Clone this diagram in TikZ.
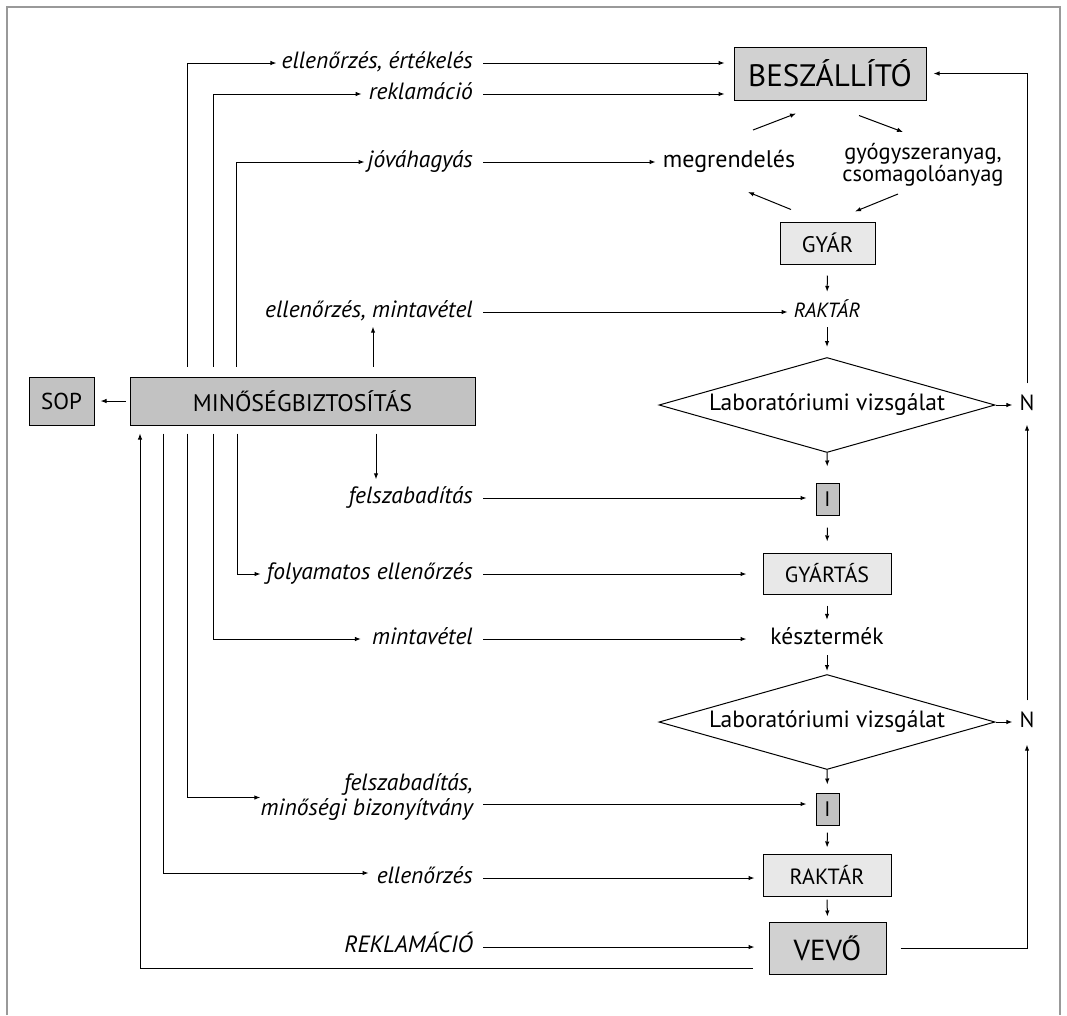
\documentclass[tikz,border=0pt]{standalone}
\usepackage{fontspec}
\setmainfont{PT Sans}
\usetikzlibrary{arrows.meta,shapes.geometric,calc}
\begin{document}
\begin{tikzpicture}[x=1pt,y=-1pt,
  arr/.style={-{Latex[length=6pt,width=4.5pt]}, line width=1pt},
  lbl/.style={font=\fontsize{23.5}{25}\selectfont\itshape, inner sep=0pt, anchor=east, text height=15pt, text depth=4pt},
  txt/.style={font=\fontsize{23.5}{25}\selectfont, inner sep=0pt, text height=15pt, text depth=4pt},
  box/.style={draw, line width=1pt, inner sep=0pt},
  light/.style={box, fill=black!9},
  mid/.style={box, fill=black!18},
  dark/.style={box, fill=black!24},
  dia/.style={draw, line width=1pt, diamond, aspect=3.5, inner sep=0pt, minimum width=336pt, minimum height=95pt, font=\fontsize{23.5}{25}\selectfont}
]
\useasboundingbox (0,0) rectangle (1067,1015);
\draw[black!40, line width=1.5pt] (7,1015) -- (7,7) -- (1060,7) -- (1060,1015);

% main column
\node[mid, minimum width=192pt, minimum height=53pt, font=\fontsize{31}{31}\selectfont] (besz) at (830,73.5) {BESZÁLLÍTÓ};
\node[txt, font=\fontsize{24}{25}\selectfont] (megr) at (729,162) {megrendelés};
\node[font=\fontsize{22.5}{22}\selectfont, inner sep=0pt, align=center] (gyogy) at (923,165) {gyógyszeranyag,\\csomagolóanyag};
\node[light, minimum width=95pt, minimum height=42pt, font=\fontsize{22.5}{22}\selectfont] (gyar) at (827.5,243) {GYÁR};
\node[txt, font=\fontsize{20.5}{22}\selectfont\itshape] (rak1) at (827,312) {RAKTÁR};
\node[dia] (d1) at (827,405) {Laboratóriumi vizsgálat};
\node[dark, minimum width=23pt, minimum height=32pt, font=\fontsize{21}{21}\selectfont] (i1) at (827.5,499) {I};
\node[light, minimum width=128pt, minimum height=41pt, font=\fontsize{22}{22}\selectfont] (gyartas) at (827,573.5) {GYÁRTÁS};
\node[txt] (kesz) at (827,639) {késztermék};
\node[dia] (d2) at (827,722) {Laboratóriumi vizsgálat};
\node[dark, minimum width=23pt, minimum height=32pt, font=\fontsize{21}{21}\selectfont] (i2) at (827.5,809) {I};
\node[light, minimum width=128pt, minimum height=42pt, font=\fontsize{22}{22}\selectfont] (rak2) at (827,875) {RAKTÁR};
\node[mid, minimum width=117pt, minimum height=52pt, font=\fontsize{29}{29}\selectfont] (vevo) at (827.5,948) {VEVŐ};
\node[txt, font=\fontsize{22}{22}\selectfont] (n1) at (1027,405) {N};
\node[txt, font=\fontsize{22}{22}\selectfont] (n2) at (1027,722) {N};

% left
\node[dark, minimum width=345pt, minimum height=48pt, font=\fontsize{24}{24}\selectfont] (min) at (302.5,401) {MINŐSÉGBIZTOSÍTÁS};
\node[dark, minimum width=65pt, minimum height=48pt, font=\fontsize{23}{23}\selectfont] (sop) at (61.5,401) {SOP};

% labels
\node[lbl] (la) at (473,63) {ellenőrzés, értékelés};
\node[lbl] (lb) at (473,94) {reklamáció};
\node[lbl] (lc) at (473,162) {jóváhagyás};
\node[lbl] (ld) at (473,312) {ellenőrzés, mintavétel};
\node[lbl] (le) at (473,498) {felszabadítás};
\node[lbl] (lf) at (473,574) {folyamatos ellenőrzés};
\node[lbl] (lg) at (473,639) {mintavétel};
\node[font=\fontsize{23.5}{25}\selectfont\itshape, inner sep=0pt, anchor=east, align=right] (lh) at (473,797.5) {felszabadítás,\\minőségi bizonyítvány};
\node[lbl] (li) at (473,878) {ellenőrzés};
\node[lbl] (lj) at (473,947) {REKLAMÁCIÓ};

% bus x positions
\coordinate (xA) at (187,0);
\coordinate (xB) at (213,0);
\coordinate (xC) at (236,0);
\coordinate (xD) at (373,0);
\coordinate (xE) at (376,0);
\coordinate (xF) at (237,0);
\coordinate (xH) at (163,0);
\coordinate (xK) at (140,0);

% label -> main column
\draw[arr, shorten <=10pt, shorten >=9pt] (la.east) -- (besz.west |- la.east);
\draw[arr, shorten <=10pt, shorten >=9pt] (lb.east) -- (besz.west |- lb.east);
\draw[arr, shorten <=10pt, shorten >=7pt] (lc.east) -- (megr.west);
\draw[arr, shorten <=10pt, shorten >=6pt] (ld.east) -- (rak1.west);
\draw[arr, shorten <=10pt, shorten >=9pt] (le.east) -- (i1.west |- le.east);
\draw[arr, shorten <=10pt, shorten >=16pt] (lf.east) -- (gyartas.west |- lf.east);
\draw[arr, shorten <=10pt, shorten >=16pt] (lg.east) -- (gyartas.west |- lg.east);
\draw[arr, shorten >=9pt] ([xshift=10pt,yshift=-6.5pt]lh.east) -- (i2.west |- 0,804);
\draw[arr, shorten <=10pt, shorten >=8pt] (li.east) -- (rak2.west |- li.east);
\draw[arr, shorten <=10pt, shorten >=14pt] (lj.east) -- (vevo.west |- lj.east);

% quality hooks (top)
\draw[arr, shorten >=5pt] ([yshift=10pt]min.north -| xA) |- (la.west);
\draw[arr, shorten >=7pt] ([yshift=10pt]min.north -| xB) |- (lb.west);
\draw[arr, shorten >=3pt] ([yshift=10pt]min.north -| xC) |- (lc.west);
\draw[arr, shorten >=5pt] ([yshift=10pt]min.north -| xD) -- (ld.south -| xD);
% quality hooks (bottom)
\draw[arr, shorten >=9pt] ([yshift=-8pt]min.south -| xE) -- (le.north -| xE);
\draw[arr, shorten >=6pt] ([yshift=-8pt]min.south -| xF) |- (lf.west);
\draw[arr, shorten >=11pt] ([yshift=-8pt]min.south -| xB) |- (lg.west);
\draw[arr] ([yshift=-8pt]min.south -| xA) |- (lh.west);
\draw[arr, shorten >=8pt] ([yshift=-8pt]min.south -| xH) |- ([yshift=5pt]li.west);
\draw[arr] ([xshift=-16pt,yshift=6pt]vevo.south west) -| ([yshift=-8pt]min.south -| xK);
\draw[arr, shorten <=4pt, shorten >=6pt] (min.west) -- (sop.east);

% supplier cycle
\draw[arr] ([xshift=24pt,yshift=32pt]megr.center) -- ([xshift=-34pt,yshift=-13pt]besz.south);
\draw[arr] ([xshift=29pt,yshift=-15pt]besz.south) -- ([xshift=-20pt,yshift=33pt]gyogy.center);
\draw[arr] ([xshift=-25pt,yshift=-29pt]gyogy.center) -- ([xshift=27.5pt,yshift=10pt]gyar.north);
\draw[arr] ([xshift=-36.5pt,yshift=12pt]gyar.north) -- ([xshift=19pt,yshift=-30pt]megr.center);

% main flow
\draw[arr, shorten <=11pt, shorten >=10.5pt] (gyar.south) -- (rak1.north);
\draw[arr, shorten <=5.5pt, shorten >=10pt] (rak1.south) -- (d1.north);
\draw[arr, shorten >=16pt] (d1.south) -- (i1.north);
\draw[arr, shorten <=12pt, shorten >=11pt] (i1.south) -- (gyartas.north);
\draw[arr, shorten <=11pt, shorten >=9.5pt] (gyartas.south) -- (kesz.north);
\draw[arr, shorten <=6.5pt, shorten >=3pt] (kesz.south) -- (d2.north);
\draw[arr, shorten >=8pt] (d2.south) -- (i2.north);
\draw[arr, shorten <=7pt, shorten >=6pt] (i2.south) -- (rak2.north);
\draw[arr, shorten <=3pt, shorten >=5pt] (rak2.south) -- (vevo.north);

% rejection paths
\draw[arr, shorten >=7pt] (d1.east) -- (n1.west);
\draw[arr, shorten >=7pt] (d2.east) -- (n2.west);
\draw[arr, shorten <=12pt, shorten >=10pt] (n2.north) -- (n1.south);
\draw[arr, shorten <=12pt, shorten >=7pt] (n1.north) |- (besz.east);
\draw[arr, shorten <=14pt, shorten >=13pt] (vevo.east) -| (n2.south);
\end{tikzpicture}
\end{document}
